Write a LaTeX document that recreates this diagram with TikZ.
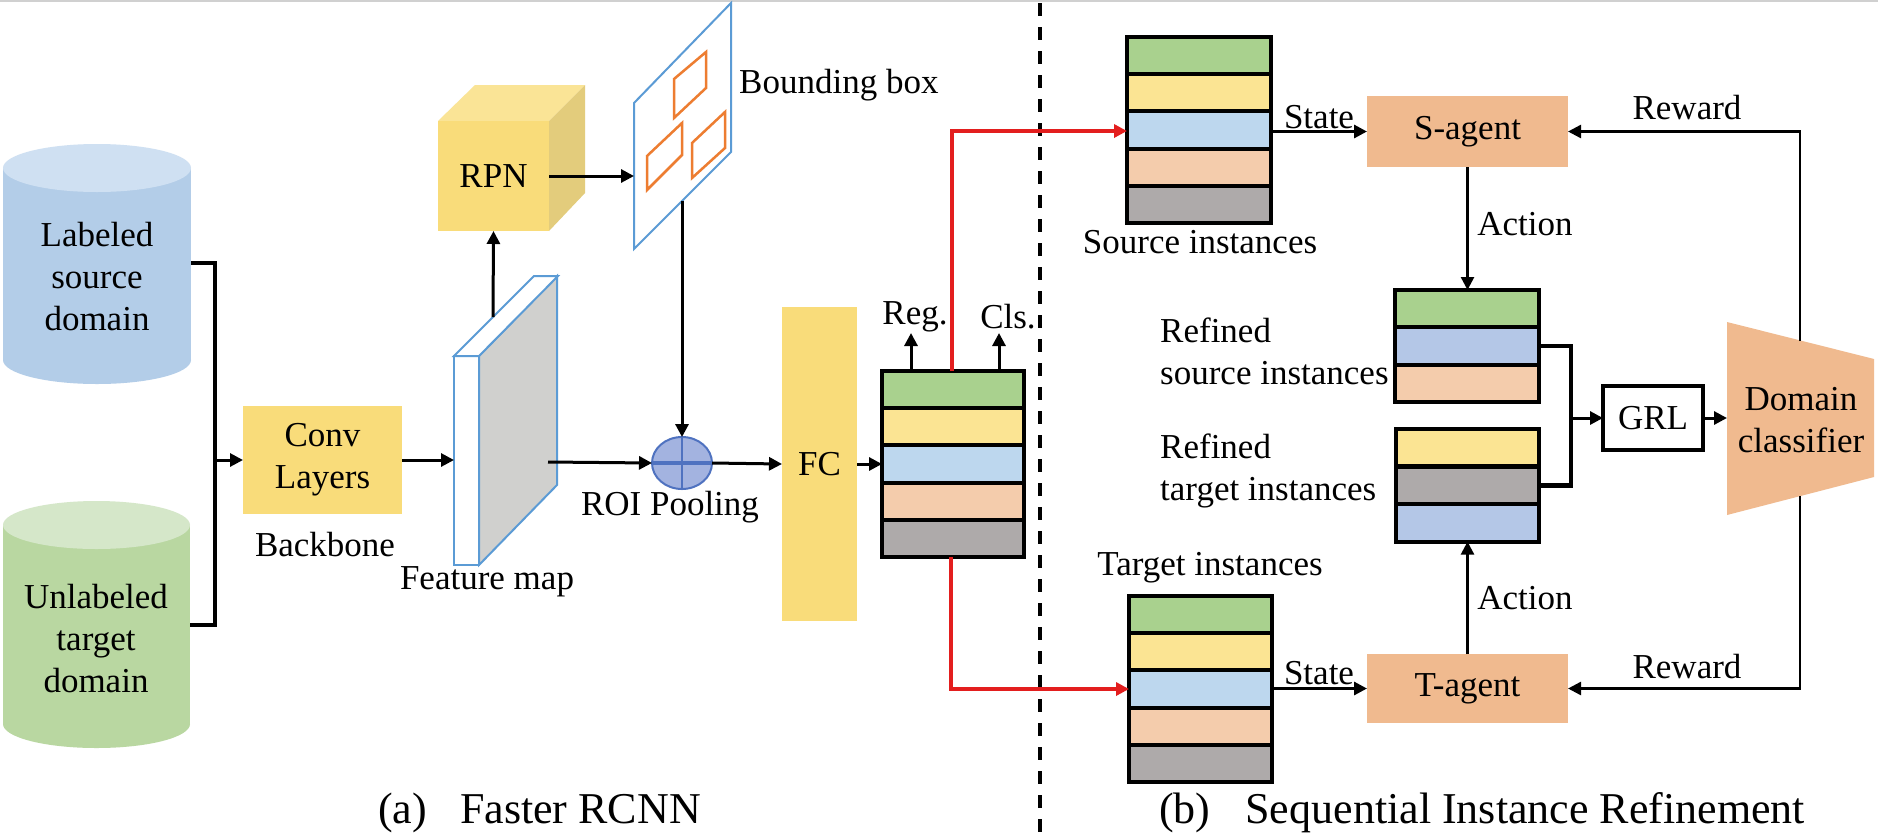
\documentclass[tikz,border=0pt]{standalone}
\usepackage{fontspec}
\setmainfont{LiberationSerif}[Extension=.ttf,UprightFont=*-Regular,BoldFont=*-Bold,ItalicFont=*-Italic,BoldItalicFont=*-BoldItalic]
\usetikzlibrary{arrows.meta,shapes.geometric}
\definecolor{cgreen}{HTML}{A9D18E}
\definecolor{cyellow}{HTML}{FBE493}
\definecolor{cblue}{HTML}{BDD7EE}
\definecolor{cblueb}{HTML}{B4C7E7}
\definecolor{cpeach}{HTML}{F4CCAC}
\definecolor{cgray}{HTML}{AEAAAA}
\definecolor{boxyellow}{HTML}{F9DC7A}
\definecolor{cubetop}{HTML}{FAE496}
\definecolor{cubeside}{HTML}{E3CC7C}
\definecolor{agent}{HTML}{F0BA8F}
\definecolor{cylblue}{HTML}{B3CDE8}
\definecolor{cylbluetop}{HTML}{CFE0F2}
\definecolor{cylgreen}{HTML}{B9D7A1}
\definecolor{cylgreentop}{HTML}{D5E7C9}
\definecolor{planeblue}{HTML}{5B9BD5}
\definecolor{bboxorange}{HTML}{ED7D31}
\definecolor{fmgray}{HTML}{D0D0CE}
\definecolor{roifill}{HTML}{A3B3E0}
\definecolor{roiline}{HTML}{4F72C0}
\definecolor{redline}{HTML}{E31E1E}
\definecolor{topline}{HTML}{D0D0D0}
\begin{document}
\begin{tikzpicture}[x=1pt,y=-1pt,font=\rmfamily\fontsize{35}{42}\selectfont,
  arr/.style={-{Triangle[length=13pt,width=13pt]},line width=3pt},
  redarr/.style={-{Triangle[length=13pt,width=13pt]},line width=3.5pt,draw=redline},
  seg/.style={draw=black,line width=4pt,minimum height=37.2pt,inner sep=0pt,outer sep=0pt,anchor=north west},
  yellowbox/.style={fill=boxyellow,inner sep=0pt,outer sep=0pt},
  agentbox/.style={fill=agent,inner sep=0pt,outer sep=0pt,minimum width=201pt},
  lbl/.style={inner sep=0pt,align=center}]
\fill[white] (0,0) rectangle (1878,839);
\useasboundingbox (0,0) rectangle (1878,839);
\draw[topline,line width=1.5pt] (0,0.75) -- (1878,0.75);

% ---------- cylinders ----------
\fill[cylblue] (3,168) rectangle (191,360);
\fill[cylblue] (97,360) ellipse [x radius=94pt,y radius=24pt];
\fill[cylbluetop] (97,168) ellipse [x radius=94pt,y radius=24pt];
\node[lbl] (lsd) at (97,277) {Labeled\\source\\domain};
\coordinate (lsdE) at (191,263);

\fill[cylgreen] (3,525) rectangle (190,724);
\fill[cylgreen] (96.5,724) ellipse [x radius=93.5pt,y radius=24pt];
\fill[cylgreentop] (96.5,525) ellipse [x radius=93.5pt,y radius=24pt];
\node[lbl] (utd) at (96,639) {Unlabeled\\target\\domain};
\coordinate (utdE) at (190,625);

% ---------- backbone ----------
\node[yellowbox,minimum width=159pt,minimum height=108pt,align=center] (conv) at (322.5,460) {Conv\\Layers};
\node[lbl] (bb) at (325,545) {Backbone};
\coordinate (jn) at (215,460);
\draw[line width=4pt] (lsdE) -| (jn);
\draw[line width=4pt] (utdE) -| (jn);
\draw[arr] (jn) -- (conv.west);

% ---------- feature map ----------
\draw[planeblue,line width=2pt,fill=fmgray] (479,356) -- (557,276) -- (557,485) -- (479,565) -- cycle;
\draw[planeblue,line width=2pt,fill=white] (454,356) rectangle (479,565);
\draw[planeblue,line width=2pt,fill=white] (454,356) -- (534,276) -- (558,276) -- (479,356) -- cycle;
\node[lbl] (fml) at (487,582) {Feature map};
\coordinate (fmW) at (454,460);
\coordinate (fmTop) at (493,317);
\coordinate (fmOut) at (548,462);
\draw[arr] (conv.east) -- (fmW);

% ---------- RPN cube ----------
\fill[cubetop] (438,121) -- (475,85) -- (585,85) -- (549,121) -- cycle;
\fill[cubeside] (549,121) -- (585,85) -- (585,193) -- (549,231) -- cycle;
\node[yellowbox,minimum width=111pt,minimum height=110pt] (rpn) at (493.5,176) {RPN};
\draw[arr] (fmTop) -- (rpn.south);

% ---------- bounding box plane ----------
\draw[planeblue,line width=2pt,fill=white] (634,103) -- (731,3) -- (731,152) -- (634,249) -- cycle;
\draw[bboxorange,line width=2.5pt] (674,79) -- (706,52) -- (706,88) -- (674,118) -- cycle;
\draw[bboxorange,line width=2.5pt] (647,156) -- (682,123) -- (682,155) -- (647,190) -- cycle;
\draw[bboxorange,line width=2.5pt] (692,143) -- (725,112) -- (725,148) -- (692,178) -- cycle;
\node[lbl,anchor=west] (bbl) at (739,85) {Bounding box};
\coordinate (planeW) at (634,176);
\coordinate (planeB) at (682,201);
\draw[arr] (rpn.east) -- (planeW);

% ---------- ROI pooling ----------
\node[ellipse,draw=roiline,line width=2pt,fill=roifill,minimum width=60pt,minimum height=52pt,inner sep=0pt,outer sep=0pt] (roi) at (682,463) {};
\draw[roiline,line width=2.5pt] (roi.north) -- (roi.south);
\draw[roiline,line width=3.5pt] (roi.west) -- (roi.east);
\node[lbl] (roil) at (670,507) {ROI Pooling};
\draw[arr] (planeB) -- (roi.north);
\draw[arr] (fmOut) -- (roi.west);

% ---------- FC ----------
\node[yellowbox,minimum width=75pt,minimum height=314pt] (fc) at (819.5,464) {FC};
\draw[arr] (roi.east) -- (fc.west);

% ---------- middle stack ----------
\node[seg,minimum width=142pt,fill=cgreen] (m1) at (882,371) {};
\node[seg,minimum width=142pt,fill=cyellow] (m2) at (882,408.2) {};
\node[seg,minimum width=142pt,fill=cblue] (m3) at (882,445.4) {};
\node[seg,minimum width=142pt,fill=cpeach] (m4) at (882,482.6) {};
\node[seg,minimum width=142pt,fill=cgray] (m5) at (882,519.8) {};
\draw[arr] (fc.east) -- (fc.east -| m3.west);
\coordinate (regS) at (911,371);
\coordinate (clsS) at (999,371);
\node[lbl] (reg) at (915,317) {Reg.};
\node[lbl] (cls) at (1008,317) {Cls.};
\draw[arr] (regS) -- (911,333);
\draw[arr] (clsS) -- (999,333);

% ---------- divider ----------
\draw[line width=4pt,dash pattern=on 13pt off 11pt] (1040,3) -- (1040,839);

% ---------- source stack ----------
\node[seg,minimum width=144pt,fill=cgreen] (s1) at (1127,37) {};
\node[seg,minimum width=144pt,fill=cyellow] (s2) at (1127,74.2) {};
\node[seg,minimum width=144pt,fill=cblue] (s3) at (1127,111.4) {};
\node[seg,minimum width=144pt,fill=cpeach] (s4) at (1127,148.6) {};
\node[seg,minimum width=144pt,fill=cgray] (s5) at (1127,185.8) {};
\node[lbl] (srcl) at (1200,242) {Source instances};

% ---------- target stack ----------
\node[seg,minimum width=143pt,fill=cgreen] (t1) at (1129,596) {};
\node[seg,minimum width=143pt,fill=cyellow] (t2) at (1129,633.2) {};
\node[seg,minimum width=143pt,fill=cblue] (t3) at (1129,670.4) {};
\node[seg,minimum width=143pt,fill=cpeach] (t4) at (1129,707.6) {};
\node[seg,minimum width=143pt,fill=cgray] (t5) at (1129,744.8) {};
\node[lbl] (tgtl) at (1210,568) {Target instances};

% ---------- red connectors ----------
\coordinate (redTop) at (952,371);
\coordinate (redBot) at (951,557);
\draw[redarr] (redTop) |- (s1.west |- 0,131);
\draw[redarr] (redBot) |- (t1.west |- 0,689);

% ---------- agents ----------
\node[agentbox,minimum height=71pt] (sag) at (1467.5,131.5) {S-agent};
\node[agentbox,minimum height=69pt] (tag) at (1467.5,688.5) {T-agent};
\draw[arr] (s1.east |- sag.west) -- (sag.west);
\draw[arr] (t1.east |- tag.west) -- (tag.west);
\node[lbl] (st1) at (1319,117) {State};
\node[lbl] (st2) at (1319,673) {State};

% ---------- refined stacks ----------
\node[seg,minimum width=144pt,fill=cgreen] (r1) at (1395,290) {};
\node[seg,minimum width=144pt,fill=cblueb] (r2) at (1395,327.3) {};
\node[seg,minimum width=144pt,fill=cpeach] (r3) at (1395,364.6) {};
\node[lbl,anchor=west,align=left] (rsl) at (1160,351) {Refined\\source instances};

\node[seg,minimum width=143pt,fill=cyellow] (q1) at (1396,429) {};
\node[seg,minimum width=143pt,fill=cgray] (q2) at (1396,466.7) {};
\node[seg,minimum width=143pt,fill=cblueb] (q3) at (1396,504.4) {};
\node[lbl,anchor=west,align=left] (rtl) at (1160,471) {Refined\\target instances};

\draw[arr,line width=2.5pt] (sag.south) -- (sag.south |- r1.north);
\draw[arr,line width=2.5pt] (tag.north) -- (tag.north |- q3.south);
\node[lbl] (ac1) at (1525,224) {Action};
\node[lbl] (ac2) at (1525,598) {Action};

% ---------- GRL and classifier ----------
\node[draw=black,line width=3.5pt,fill=white,minimum width=100pt,minimum height=64pt,inner sep=0pt,outer sep=0pt] (grl) at (1653,418) {GRL};
\coordinate (jg) at (1571,418);
\draw[line width=4.5pt] (r2.east) -| (jg);
\draw[line width=4.5pt] (q2.east) -| (jg);
\draw[arr] (jg) -- (grl.west);

\fill[agent] (1727,322) -- (1874,359) -- (1874,477) -- (1727,515) -- cycle;
\node[lbl] (dcl) at (1801,420) {Domain\\classifier};
\coordinate (dcW) at (1727,418);
\coordinate (dcT) at (1800,341);
\coordinate (dcB) at (1800,496);
\draw[arr] (grl.east) -- (dcW);
\draw[arr,line width=2.5pt] (dcT) |- (sag.east);
\draw[arr,line width=2.5pt] (dcB) |- (tag.east);
\node[lbl] (rw1) at (1687,108) {Reward};
\node[lbl] (rw2) at (1687,667) {Reward};

% ---------- captions ----------
\node[inner sep=0pt,anchor=west,font=\rmfamily\fontsize{44}{50}\selectfont] (capa) at (378,813) {(a)\hspace{33pt}Faster RCNN};
\node[inner sep=0pt,anchor=west,font=\rmfamily\fontsize{44}{50}\selectfont] (capb) at (1159,813) {(b)\hspace{35pt}Sequential Instance Refinement};
\end{tikzpicture}
\end{document}
